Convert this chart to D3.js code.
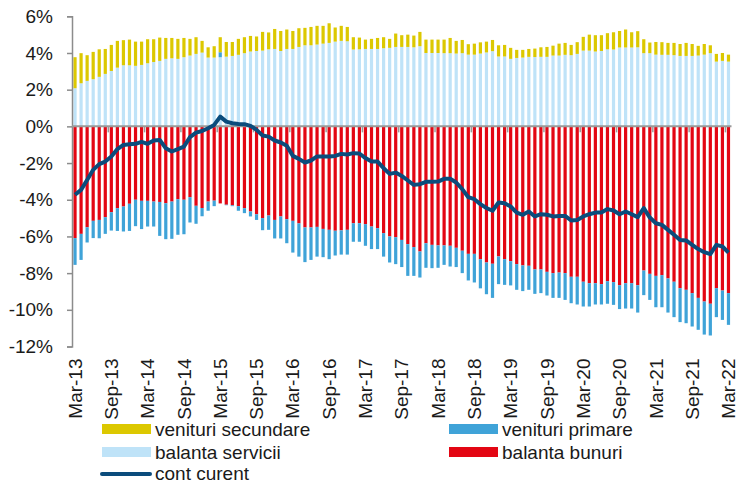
<!DOCTYPE html>
<html>
<head>
<meta charset="utf-8">
<script src="https://cdn.jsdelivr.net/npm/d3@7"></script>
<style>
    body { margin: 0; background: #fff; }
    #chart { width: 736px; height: 484px; }
    text { font-family: "Liberation Sans", Arial, sans-serif; fill: #1a1a1a; }
</style>
</head>
<body>
<div id="chart"></div>
<script>
// monthly, Mar-13 .. Mar-22, % of GDP
var servicii = [2.08,2.35,2.48,2.57,2.70,2.86,3.02,3.20,3.33,3.33,
    3.30,3.35,3.44,3.51,3.57,3.68,3.71,3.68,3.77,3.86,
    3.95,4.02,3.75,3.75,3.77,3.80,3.84,3.90,3.99,4.08,
    4.11,4.13,4.20,4.22,4.11,4.22,4.22,4.33,4.42,4.42,
    4.46,4.51,4.55,4.62,4.66,4.64,4.19,4.20,4.22,4.22,
    4.22,4.26,4.28,4.33,4.33,4.33,4.31,4.37,4.00,4.00,
    4.00,3.99,3.99,3.97,3.99,3.91,3.91,3.97,4.03,4.10,
    3.81,3.81,3.68,3.73,3.75,3.79,3.78,3.79,3.79,3.86,
    3.86,3.90,3.88,3.95,4.13,4.13,4.08,4.11,4.20,4.19,
    4.30,4.30,4.30,4.31,3.99,3.99,3.91,3.90,3.90,3.88,
    3.84,3.84,3.84,3.86,3.91,3.99,3.53,3.57,3.53];

var secundare = [1.69,1.64,1.40,1.49,1.50,1.36,1.42,1.46,1.37,1.40,
    1.32,1.27,1.31,1.24,1.27,1.14,1.11,1.09,1.05,0.91,
    0.91,0.64,0.56,0.62,0.82,0.80,0.76,0.87,0.87,0.85,
    0.79,1.02,0.92,1.09,1.09,1.06,0.98,1.02,0.95,1.00,
    1.02,0.97,1.07,0.77,0.82,0.78,0.67,0.64,0.51,0.55,
    0.60,0.60,0.49,0.73,0.64,0.67,0.64,0.78,0.73,0.73,
    0.73,0.74,0.83,0.69,0.72,0.57,0.60,0.61,0.59,0.61,
    0.61,0.63,0.60,0.44,0.42,0.43,0.46,0.52,0.54,0.54,
    0.65,0.65,0.56,0.64,0.75,0.87,0.89,0.86,0.88,0.94,
    0.90,0.98,0.83,0.88,0.76,0.58,0.69,0.69,0.65,0.67,
    0.65,0.71,0.65,0.53,0.58,0.43,0.42,0.43,0.38];

var bunuri = [-6.09,-5.86,-5.50,-5.15,-5.10,-4.95,-4.68,-4.46,-4.37,-4.22,
    -4.00,-4.06,-4.06,-4.10,-4.12,-4.19,-4.10,-3.97,-4.00,-3.86,
    -4.33,-4.45,-4.10,-4.05,-4.20,-4.27,-4.30,-4.35,-4.46,-4.64,
    -4.79,-5.00,-4.86,-5.10,-4.91,-5.06,-5.15,-5.29,-5.51,-5.51,
    -5.48,-5.59,-5.64,-5.69,-5.67,-5.64,-5.28,-5.28,-5.33,-5.46,
    -5.55,-5.82,-6.00,-6.04,-6.19,-6.42,-6.58,-6.82,-6.37,-6.46,
    -6.49,-6.49,-6.51,-6.62,-6.78,-6.95,-6.95,-7.24,-7.42,-7.49,
    -7.09,-7.24,-7.35,-7.51,-7.58,-7.60,-7.80,-7.80,-7.93,-8.00,
    -7.97,-8.00,-8.20,-8.20,-8.47,-8.55,-8.55,-8.60,-8.44,-8.49,
    -8.66,-8.55,-8.55,-8.66,-7.86,-8.04,-8.15,-8.11,-8.29,-8.47,
    -8.82,-8.91,-9.09,-9.35,-9.55,-9.67,-8.82,-8.95,-9.09];

var primare = [-1.46,-1.42,-0.83,-0.94,-1.00,-0.91,-1.00,-1.24,-1.36,-1.48,
    -1.44,-1.54,-1.40,-1.36,-1.85,-1.96,-2.03,-1.94,-1.88,-1.38,
    -0.98,-0.45,-0.50,-0.30,0.27,-0.03,-0.05,-0.25,-0.27,-0.27,
    -0.31,-0.66,-0.78,-1.01,-1.20,-1.31,-1.73,-1.81,-1.89,-1.77,
    -1.62,-1.54,-1.60,-1.35,-1.32,-1.35,-1.01,-1.01,-1.18,-1.23,
    -1.14,-1.28,-1.42,-1.47,-1.48,-1.73,-1.57,-1.42,-1.34,-1.27,
    -1.22,-1.06,-1.13,-1.05,-1.22,-1.45,-1.56,-1.59,-1.73,-1.86,
    -1.51,-1.40,-1.32,-1.40,-1.40,-1.31,-1.33,-1.29,-1.29,-1.35,
    -1.38,-1.46,-1.44,-1.51,-1.35,-1.27,-1.16,-1.11,-1.23,-1.24,
    -1.30,-1.38,-1.38,-1.49,-1.34,-1.42,-1.71,-1.75,-1.86,-1.93,
    -1.85,-1.82,-1.82,-1.74,-1.80,-1.73,-1.58,-1.60,-1.73];

var contCurent = [-3.73,-3.46,-2.92,-2.37,-2.06,-1.92,-1.64,-1.24,-1.01,-0.97,
    -0.95,-0.84,-0.95,-0.77,-0.74,-1.19,-1.37,-1.24,-1.10,-0.59,
    -0.34,-0.25,-0.10,0.08,0.53,0.26,0.17,0.13,0.12,0.03,
    -0.19,-0.50,-0.56,-0.77,-0.88,-1.06,-1.61,-1.77,-1.97,-1.86,
    -1.64,-1.64,-1.64,-1.61,-1.50,-1.53,-1.46,-1.48,-1.73,-1.92,
    -1.92,-2.28,-2.59,-2.52,-2.70,-2.95,-3.19,-3.15,-3.02,-3.02,
    -3.01,-2.86,-2.86,-3.06,-3.42,-3.86,-3.97,-4.24,-4.45,-4.60,
    -4.15,-4.19,-4.37,-4.70,-4.82,-4.64,-4.91,-4.79,-4.82,-4.91,
    -4.88,-4.88,-5.13,-5.10,-4.91,-4.79,-4.70,-4.70,-4.51,-4.59,
    -4.79,-4.64,-4.79,-4.95,-4.46,-4.97,-5.28,-5.37,-5.64,-5.91,
    -6.19,-6.22,-6.46,-6.69,-6.86,-6.96,-6.46,-6.55,-6.88];

var yTicks = [-12, -10, -8, -6, -4, -2, 0, 2, 4, 6];

var fmt = d3.timeFormat("%b-%y");
var months = d3.timeMonth.range(new Date(2013, 2, 1), new Date(2022, 3, 1)).map(fmt);
var tickLabels = months.filter(function (d, i) { return i % 6 == 0; });

var series = [
    {key: "servicii", name: "balanta servicii", color: "#bfe3f8", values: servicii},
    {key: "bunuri", name: "balanta bunuri", color: "#e30613", values: bunuri},
    {key: "primare", name: "venituri primare", color: "#3fa3d8", values: primare},
    {key: "secundare", name: "venituri secundare", color: "#dcc800", values: secundare}
];

var w = 736, h = 484;
var plotLeft = 72, plotRight = 731.5, plotTop = 16.3, plotBottom = 346.5;

var svg = d3.select("#chart").append("svg")
    .attr("width", w)
    .attr("height", h);

var x = d3.scaleBand().domain(months).range([plotLeft, plotRight])
    .paddingInner(0.47).paddingOuter(0.235);
var y = d3.scaleLinear().domain([-12, 6]).range([plotBottom, plotTop]);

var table = months.map(function (m, i) {
    var row = {month: m};
    series.forEach(function (s) { row[s.key] = s.values[i]; });
    return row;
});

var stacked = d3.stack()
    .keys(series.map(function (s) { return s.key; }))
    .offset(d3.stackOffsetDiverging)(table);

// bars
svg.append("g").selectAll("g")
    .data(stacked)
    .enter().append("g")
    .attr("fill", function (d, i) { return series[i].color; })
    .selectAll("rect")
    .data(function (d) { return d; })
    .enter().append("rect")
    .attr("x", function (d) { return x(d.data.month); })
    .attr("width", x.bandwidth())
    .attr("y", function (d) { return y(Math.max(d[0], d[1])); })
    .attr("height", function (d) { return Math.abs(y(d[0]) - y(d[1])); });

// y axis
var yAxis = svg.append("g")
    .attr("transform", "translate(" + plotLeft + ",0)")
    .call(d3.axisLeft(y).tickValues(yTicks).tickSize(5).tickPadding(14)
        .tickFormat(function (d) { return d + "%"; }));
yAxis.selectAll("path, line").attr("stroke", "#8c8c8c").attr("stroke-width", 1.5);
yAxis.selectAll("text").style("font-size", "19px").attr("fill", "#1a1a1a");

// zero line with a tick every six months
var zero = svg.append("g");
zero.append("line")
    .attr("x1", plotLeft).attr("x2", plotRight)
    .attr("y1", y(0)).attr("y2", y(0))
    .attr("stroke", "#9a9a9a").attr("stroke-width", 2);
zero.selectAll(".tk")
    .data(d3.range(6, months.length, 6))
    .enter().append("line")
    .attr("x1", function (i) { return x(months[i]) - x.step() * x.paddingInner() / 2; })
    .attr("x2", function (i) { return x(months[i]) - x.step() * x.paddingInner() / 2; })
    .attr("y1", y(0)).attr("y2", y(0) + 6)
    .attr("stroke", "#9a9a9a").attr("stroke-width", 1.5);

// month labels under the plot
var xAxis = svg.append("g")
    .attr("transform", "translate(0," + plotBottom + ")")
    .call(d3.axisBottom(x).tickValues(tickLabels).tickSize(0));
xAxis.select(".domain").remove();
xAxis.selectAll("text")
    .style("font-size", "19px")
    .attr("fill", "#1a1a1a")
    .attr("transform", "rotate(-90)")
    .attr("x", -12)
    .attr("y", 0)
    .attr("dy", "0.35em")
    .style("text-anchor", "end");

// cont curent line
var line = d3.line()
    .x(function (d, i) { return x(months[i]) + x.bandwidth() / 2; })
    .y(function (d) { return y(d); });

svg.append("path")
    .datum(contCurent)
    .attr("d", line)
    .attr("fill", "none")
    .attr("stroke", "#0b4c7c")
    .attr("stroke-width", 4)
    .attr("stroke-linejoin", "round");

// legend
var legend = [
    {name: "venituri secundare", color: "#dcc800", cx: 102, cy: 429},
    {name: "venituri primare", color: "#3fa3d8", cx: 449, cy: 429},
    {name: "balanta servicii", color: "#bfe3f8", cx: 102, cy: 452},
    {name: "balanta bunuri", color: "#e30613", cx: 449, cy: 452}
];
var lg = svg.append("g").selectAll("g")
    .data(legend)
    .enter().append("g");
lg.append("rect")
    .attr("x", function (d) { return d.cx; })
    .attr("y", function (d) { return d.cy - 5; })
    .attr("width", 49).attr("height", 10)
    .attr("fill", function (d) { return d.color; });
lg.append("text")
    .attr("x", function (d) { return d.cx + 53; })
    .attr("y", function (d) { return d.cy; })
    .attr("dy", "0.35em")
    .style("font-size", "19px")
    .text(function (d) { return d.name; });

svg.append("line")
    .attr("x1", 102).attr("x2", 150)
    .attr("y1", 474).attr("y2", 474)
    .attr("stroke", "#0b4c7c").attr("stroke-width", 4)
    .attr("stroke-linecap", "round");
svg.append("text")
    .attr("x", 155).attr("y", 473).attr("dy", "0.35em")
    .style("font-size", "19px")
    .text("cont curent");
</script>
</body>
</html>
